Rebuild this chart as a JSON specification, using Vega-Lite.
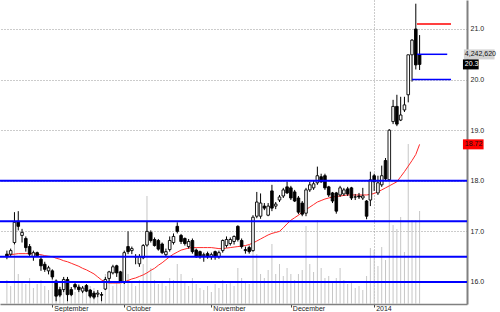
{
"$schema":"https://vega.github.io/schema/vega-lite/v6.json",
"width":467,"height":304,"padding":{"left":0,"top":0,"right":33,"bottom":8},"autosize":{"type":"none"},
"background":"white",
"config":{"view":{"stroke":null},"font":"Liberation Sans"},
"datasets":{"bars":[
{"i":0,"o":16.55,"h":16.62,"l":16.45,"c":16.5,"v":1095000,"ma":16.53},
{"i":1,"o":16.55,"h":16.66,"l":16.5,"c":16.62,"v":821000,"ma":16.54},
{"i":2,"o":16.78,"h":17.38,"l":16.74,"c":17.18,"v":2692000,"ma":16.55},
{"i":3,"o":17.2,"h":17.4,"l":17.02,"c":17.1,"v":1369000,"ma":16.56},
{"i":4,"o":16.92,"h":17.05,"l":16.78,"c":16.98,"v":1004000,"ma":16.56},
{"i":5,"o":16.86,"h":16.9,"l":16.6,"c":16.68,"v":913000,"ma":16.56},
{"i":6,"o":16.7,"h":16.75,"l":16.5,"c":16.55,"v":1186000,"ma":16.56},
{"i":7,"o":16.5,"h":16.62,"l":16.42,"c":16.58,"v":730000,"ma":16.56},
{"i":8,"o":16.58,"h":16.6,"l":16.5,"c":16.52,"v":913000,"ma":16.55},
{"i":9,"o":16.45,"h":16.52,"l":16.22,"c":16.32,"v":1095000,"ma":16.54},
{"i":10,"o":16.35,"h":16.4,"l":16.2,"c":16.25,"v":821000,"ma":16.52},
{"i":11,"o":16.22,"h":16.32,"l":16.15,"c":16.28,"v":639000,"ma":16.51},
{"i":12,"o":16.22,"h":16.25,"l":16.05,"c":16.1,"v":1369000,"ma":16.5},
{"i":13,"o":16.02,"h":16.05,"l":15.62,"c":15.72,"v":1004000,"ma":16.47},
{"i":14,"o":15.85,"h":15.9,"l":15.7,"c":15.74,"v":821000,"ma":16.45},
{"i":15,"o":15.85,"h":16.1,"l":15.8,"c":16.05,"v":684000,"ma":16.42},
{"i":16,"o":16.05,"h":16.1,"l":15.62,"c":15.75,"v":913000,"ma":16.4},
{"i":17,"o":15.85,"h":15.9,"l":15.72,"c":15.75,"v":639000,"ma":16.37},
{"i":18,"o":15.95,"h":16.0,"l":15.85,"c":15.9,"v":548000,"ma":16.34},
{"i":19,"o":15.9,"h":15.95,"l":15.8,"c":15.85,"v":730000,"ma":16.31},
{"i":20,"o":15.82,"h":15.92,"l":15.78,"c":15.88,"v":639000,"ma":16.27},
{"i":21,"o":15.93,"h":15.96,"l":15.8,"c":15.82,"v":548000,"ma":16.24},
{"i":22,"o":15.84,"h":15.86,"l":15.68,"c":15.72,"v":821000,"ma":16.2},
{"i":23,"o":15.78,"h":15.82,"l":15.66,"c":15.7,"v":730000,"ma":16.16},
{"i":24,"o":15.76,"h":15.84,"l":15.7,"c":15.78,"v":456000,"ma":16.1},
{"i":25,"o":15.75,"h":15.8,"l":15.62,"c":15.74,"v":548000,"ma":16.04},
{"i":26,"o":15.86,"h":16.1,"l":15.84,"c":16.05,"v":1369000,"ma":16.0},
{"i":27,"o":16.07,"h":16.22,"l":16.02,"c":16.2,"v":1186000,"ma":15.98},
{"i":28,"o":16.18,"h":16.34,"l":16.15,"c":16.3,"v":821000,"ma":15.98},
{"i":29,"o":16.32,"h":16.34,"l":16.1,"c":16.18,"v":1004000,"ma":15.98},
{"i":30,"o":16.2,"h":16.22,"l":15.98,"c":16.02,"v":913000,"ma":15.98},
{"i":31,"o":16.0,"h":16.62,"l":15.96,"c":16.58,"v":2008000,"ma":16.0},
{"i":32,"o":16.7,"h":17.0,"l":16.55,"c":16.6,"v":1369000,"ma":16.03},
{"i":33,"o":16.62,"h":16.7,"l":16.55,"c":16.66,"v":1004000,"ma":16.06},
{"i":34,"o":16.5,"h":16.55,"l":16.35,"c":16.5,"v":821000,"ma":16.08},
{"i":35,"o":16.36,"h":16.55,"l":16.3,"c":16.5,"v":1095000,"ma":16.11},
{"i":36,"o":16.48,"h":16.75,"l":16.45,"c":16.72,"v":1825000,"ma":16.14},
{"i":37,"o":16.73,"h":17.19,"l":16.7,"c":17.0,"v":4928000,"ma":16.18},
{"i":38,"o":16.98,"h":17.02,"l":16.78,"c":16.82,"v":1643000,"ma":16.23},
{"i":39,"o":16.84,"h":16.88,"l":16.7,"c":16.72,"v":1095000,"ma":16.27},
{"i":40,"o":16.82,"h":16.85,"l":16.62,"c":16.65,"v":913000,"ma":16.33},
{"i":41,"o":16.75,"h":16.78,"l":16.55,"c":16.58,"v":1004000,"ma":16.38},
{"i":42,"o":16.54,"h":16.66,"l":16.5,"c":16.6,"v":821000,"ma":16.44},
{"i":43,"o":16.64,"h":16.9,"l":16.6,"c":16.82,"v":1186000,"ma":16.5},
{"i":44,"o":16.78,"h":16.96,"l":16.74,"c":16.9,"v":1095000,"ma":16.55},
{"i":45,"o":17.1,"h":17.18,"l":16.96,"c":17.0,"v":1825000,"ma":16.59},
{"i":46,"o":16.92,"h":16.95,"l":16.75,"c":16.8,"v":1369000,"ma":16.63},
{"i":47,"o":16.86,"h":16.88,"l":16.72,"c":16.76,"v":1004000,"ma":16.65},
{"i":48,"o":16.7,"h":16.85,"l":16.66,"c":16.8,"v":821000,"ma":16.67},
{"i":49,"o":16.82,"h":16.86,"l":16.56,"c":16.6,"v":1186000,"ma":16.68},
{"i":50,"o":16.63,"h":16.66,"l":16.48,"c":16.5,"v":913000,"ma":16.68},
{"i":51,"o":16.6,"h":16.62,"l":16.46,"c":16.5,"v":730000,"ma":16.68},
{"i":52,"o":16.52,"h":16.58,"l":16.4,"c":16.54,"v":639000,"ma":16.68},
{"i":53,"o":16.56,"h":16.6,"l":16.46,"c":16.5,"v":821000,"ma":16.68},
{"i":54,"o":16.5,"h":16.58,"l":16.44,"c":16.54,"v":548000,"ma":16.68},
{"i":55,"o":16.6,"h":16.62,"l":16.44,"c":16.5,"v":913000,"ma":16.67},
{"i":56,"o":16.5,"h":16.62,"l":16.46,"c":16.58,"v":730000,"ma":16.66},
{"i":57,"o":16.62,"h":16.84,"l":16.58,"c":16.82,"v":1095000,"ma":16.66},
{"i":58,"o":16.72,"h":16.9,"l":16.68,"c":16.84,"v":913000,"ma":16.67},
{"i":59,"o":16.76,"h":16.88,"l":16.72,"c":16.84,"v":1004000,"ma":16.68},
{"i":60,"o":16.8,"h":16.92,"l":16.74,"c":16.9,"v":821000,"ma":16.69},
{"i":61,"o":17.1,"h":17.12,"l":16.8,"c":16.84,"v":1643000,"ma":16.7},
{"i":62,"o":16.82,"h":16.86,"l":16.66,"c":16.7,"v":1186000,"ma":16.71},
{"i":63,"o":16.64,"h":16.7,"l":16.56,"c":16.62,"v":1004000,"ma":16.72},
{"i":64,"o":16.68,"h":16.72,"l":16.56,"c":16.6,"v":913000,"ma":16.74},
{"i":65,"o":16.62,"h":17.32,"l":16.6,"c":17.28,"v":3650000,"ma":16.77},
{"i":66,"o":17.3,"h":17.78,"l":17.26,"c":17.58,"v":2281000,"ma":16.81},
{"i":67,"o":17.3,"h":17.75,"l":17.25,"c":17.56,"v":1369000,"ma":16.85},
{"i":68,"o":17.5,"h":17.56,"l":17.42,"c":17.46,"v":1186000,"ma":16.89},
{"i":69,"o":17.32,"h":17.56,"l":17.3,"c":17.5,"v":1551000,"ma":16.93},
{"i":70,"o":17.8,"h":17.92,"l":17.4,"c":17.46,"v":2738000,"ma":16.96},
{"i":71,"o":17.5,"h":17.58,"l":17.44,"c":17.54,"v":1369000,"ma":16.98},
{"i":72,"o":17.62,"h":17.72,"l":17.58,"c":17.68,"v":1825000,"ma":17.0},
{"i":73,"o":17.7,"h":17.86,"l":17.66,"c":17.82,"v":1278000,"ma":17.07},
{"i":74,"o":17.88,"h":17.98,"l":17.74,"c":17.76,"v":1643000,"ma":17.15},
{"i":75,"o":17.86,"h":17.9,"l":17.62,"c":17.66,"v":1369000,"ma":17.22},
{"i":76,"o":17.78,"h":17.82,"l":17.58,"c":17.6,"v":1095000,"ma":17.27},
{"i":77,"o":17.66,"h":17.7,"l":17.34,"c":17.38,"v":1369000,"ma":17.32},
{"i":78,"o":17.56,"h":17.6,"l":17.3,"c":17.34,"v":1551000,"ma":17.38},
{"i":79,"o":17.36,"h":17.86,"l":17.3,"c":17.82,"v":3559000,"ma":17.43},
{"i":80,"o":17.82,"h":17.98,"l":17.78,"c":17.92,"v":1825000,"ma":17.48},
{"i":81,"o":17.86,"h":18.0,"l":17.82,"c":17.94,"v":1460000,"ma":17.53},
{"i":82,"o":17.96,"h":18.28,"l":17.92,"c":18.1,"v":3833000,"ma":17.58},
{"i":83,"o":18.08,"h":18.14,"l":17.96,"c":17.98,"v":1643000,"ma":17.61},
{"i":84,"o":18.1,"h":18.14,"l":17.82,"c":17.86,"v":1186000,"ma":17.64},
{"i":85,"o":17.88,"h":17.9,"l":17.68,"c":17.72,"v":1278000,"ma":17.66},
{"i":86,"o":17.76,"h":17.78,"l":17.56,"c":17.6,"v":1004000,"ma":17.68},
{"i":87,"o":17.76,"h":17.78,"l":17.35,"c":17.4,"v":1186000,"ma":17.69},
{"i":88,"o":17.72,"h":17.9,"l":17.68,"c":17.86,"v":1643000,"ma":17.7},
{"i":89,"o":17.74,"h":17.86,"l":17.7,"c":17.82,"v":1095000,"ma":17.71},
{"i":90,"o":17.84,"h":17.88,"l":17.7,"c":17.74,"v":913000,"ma":17.72},
{"i":91,"o":17.86,"h":17.88,"l":17.62,"c":17.66,"v":1004000,"ma":17.72},
{"i":92,"o":17.68,"h":17.74,"l":17.62,"c":17.68,"v":730000,"ma":17.72},
{"i":93,"o":17.7,"h":17.76,"l":17.64,"c":17.68,"v":821000,"ma":17.72},
{"i":94,"o":17.66,"h":17.86,"l":17.62,"c":17.7,"v":639000,"ma":17.72},
{"i":95,"o":17.6,"h":17.62,"l":17.24,"c":17.3,"v":1278000,"ma":17.72},
{"i":96,"o":17.62,"h":18.18,"l":17.5,"c":18.02,"v":2555000,"ma":17.73},
{"i":97,"o":18.1,"h":18.14,"l":17.8,"c":17.98,"v":2464000,"ma":17.75},
{"i":98,"o":17.76,"h":18.1,"l":17.72,"c":17.96,"v":1734000,"ma":17.78},
{"i":99,"o":17.92,"h":18.3,"l":17.88,"c":18.1,"v":2601000,"ma":17.82},
{"i":100,"o":18.4,"h":18.45,"l":18.0,"c":18.04,"v":2008000,"ma":17.86},
{"i":101,"o":18.02,"h":19.02,"l":18.0,"c":19.0,"v":7756000,"ma":17.9},
{"i":102,"o":19.17,"h":19.6,"l":19.12,"c":19.47,"v":3604000,"ma":17.94},
{"i":103,"o":19.47,"h":19.7,"l":19.08,"c":19.12,"v":3422000,"ma":17.98},
{"i":104,"o":19.2,"h":19.66,"l":19.18,"c":19.3,"v":3969000,"ma":18.08},
{"i":105,"o":19.4,"h":19.66,"l":19.36,"c":19.5,"v":2373000,"ma":18.18},
{"i":106,"o":19.7,"h":20.49,"l":19.55,"c":20.49,"v":7300000,"ma":18.29},
{"i":107,"o":20.49,"h":20.8,"l":19.96,"c":20.78,"v":3833000,"ma":18.4},
{"i":108,"o":21.0,"h":21.5,"l":20.2,"c":20.29,"v":3833000,"ma":18.52},
{"i":109,"o":20.49,"h":20.88,"l":20.19,"c":20.3,"v":4242620,"ma":18.72}
]},
"layer":[
{"data":{"name":"bars"},
 "mark":{"type":"rule","color":"#c6c6c6","strokeWidth":1},
 "encoding":{
  "x":{"field":"i","type":"quantitative","title":null,"scale":{"domain":[-0.5,120.2],"nice":false,"zero":false},
   "axis":{"values":[12,31,54,75,97],"labelExpr":"datum.value==12?'September':datum.value==31?'October':datum.value==54?'November':datum.value==75?'December':'2014'","labelAlign":"left","labelBaseline":"top","labelPadding":-3,"labelOffset":1.5,"tickSize":3,"tickColor":"#444","domainColor":"#808080","domainWidth":1.5,"labelFontSize":7,"labelColor":"#222","labelFlush":false,"labelOverlap":false,"grid":true,"gridColor":"#999","gridDash":[1,2],"gridOpacity":{"condition":{"test":"datum.value==97","value":1},"value":0}}},
  "y":{"field":"v","type":"quantitative","title":null,"scale":{"domain":[0,13870000],"nice":false,"zero":true},"axis":null},
  "y2":{"datum":0}}},
{"layer":[
 {"data":{"name":"bars"},
  "mark":{"type":"line","color":"#ff2a2a","strokeWidth":1},
  "encoding":{
   "x":{"field":"i","type":"quantitative","title":null,"scale":{"domain":[-0.5,120.2],"nice":false,"zero":false}},
   "y":{"field":"ma","type":"quantitative","title":null,"scale":{"domain":[15.565,21.573],"nice":false,"zero":false},
    "axis":{"orient":"right","values":[16,17,18,19,20,21],"format":".1f","ticks":false,"labelPadding":3,"labelFontSize":7,"labelColor":"#222","labelAlign":"left","labelBaseline":"middle","domainColor":"#808080","domainWidth":2,"grid":true,"gridColor":"#999","gridDash":[1,2]}}}},
 {"data":{"name":"bars"},
  "mark":{"type":"rule","color":"#000","strokeWidth":1},
  "encoding":{
   "x":{"field":"i","type":"quantitative","title":null},
   "y":{"field":"l","type":"quantitative","title":null},
   "y2":{"field":"h"}}},
 {"data":{"name":"bars"},
  "mark":{"type":"bar","width":2.6,"stroke":"#000","strokeWidth":0.9},
  "encoding":{
   "x":{"field":"i","type":"quantitative","title":null},
   "y":{"field":"o","type":"quantitative","title":null},
   "y2":{"field":"c"},
   "fill":{"condition":{"test":"datum.c < datum.o","value":"#000000"},"value":"#ffffff"}}},
 {"data":{"values":[{"level":16.0},{"level":16.5},{"level":17.2},{"level":18.0}]},
  "mark":{"type":"rule","color":"#0000ff","strokeWidth":2},
  "encoding":{"y":{"field":"level","type":"quantitative","title":null}}},
 {"data":{"values":[{"price":21.1,"from":108.3,"to":117.3}]},
  "mark":{"type":"rule","color":"#ff0000","strokeWidth":1.5},
  "encoding":{
   "x":{"field":"from","type":"quantitative","title":null},
   "x2":{"field":"to"},
   "y":{"field":"price","type":"quantitative","title":null}}},
 {"data":{"values":[{"price":20.5,"from":108.3,"to":116.3},{"price":20.0,"from":107.0,"to":117.3}]},
  "mark":{"type":"rule","color":"#0000ff","strokeWidth":1.5},
  "encoding":{
   "x":{"field":"from","type":"quantitative","title":null},
   "x2":{"field":"to"},
   "y":{"field":"price","type":"quantitative","title":null}}},
 {"data":{"values":[{"label":"4,242,620","value":20.3}]},
  "layer":[
   {"mark":{"type":"rect","color":"#d2d2d2","yOffset":-15,"y2Offset":-5},
    "encoding":{"x":{"datum":120.7,"type":"quantitative"},"x2":{"datum":128.8},"y":{"field":"value","type":"quantitative","title":null},"y2":{"field":"value"}}},
   {"mark":{"type":"text","align":"left","baseline":"middle","fontSize":7,"color":"#111","yOffset":-10},
    "encoding":{"x":{"datum":120.95,"type":"quantitative"},"y":{"field":"value","type":"quantitative","title":null},"text":{"field":"label"}}}]},
 {"data":{"values":[{"label":"20.3","value":20.3}]},
  "layer":[
   {"mark":{"type":"rect","color":"#000000","yOffset":-5,"y2Offset":5},
    "encoding":{"x":{"datum":120.45,"type":"quantitative"},"x2":{"datum":124.6},"y":{"field":"value","type":"quantitative","title":null},"y2":{"field":"value"}}},
   {"mark":{"type":"text","align":"left","baseline":"middle","fontSize":7,"color":"#ffffff"},
    "encoding":{"x":{"datum":120.95,"type":"quantitative"},"y":{"field":"value","type":"quantitative","title":null},"text":{"field":"label"}}}]},
 {"data":{"values":[{"label":"18.72","value":18.72}]},
  "layer":[
   {"mark":{"type":"rect","color":"#ff0000","yOffset":-5,"y2Offset":5},
    "encoding":{"x":{"datum":120.45,"type":"quantitative"},"x2":{"datum":125.9},"y":{"field":"value","type":"quantitative","title":null},"y2":{"field":"value"}}},
   {"mark":{"type":"text","align":"left","baseline":"middle","fontSize":7,"color":"#111"},
    "encoding":{"x":{"datum":120.95,"type":"quantitative"},"y":{"field":"value","type":"quantitative","title":null},"text":{"field":"label"}}}]}
 ]}
],
"resolve":{"scale":{"y":"independent"}}
}
